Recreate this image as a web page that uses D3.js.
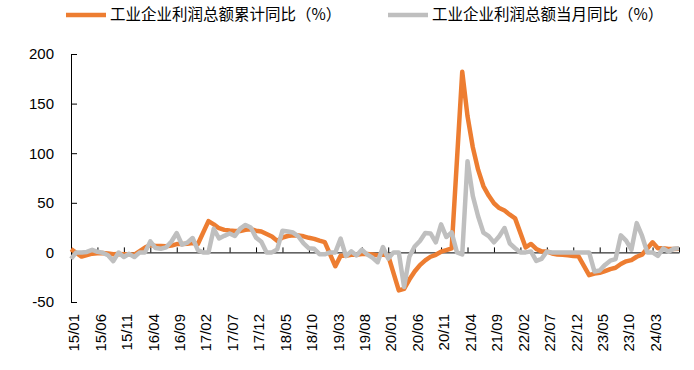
<!DOCTYPE html>
<html>
<head>
<meta charset="utf-8">
<script src="https://cdn.jsdelivr.net/npm/d3@7"></script>
<style>
body { margin: 0; background: #fff; }
#vis { width: 694px; height: 370px; }
</style>
</head>
<body>
<div id="vis"></div>
<script>
// months on the category axis, 15/01 .. 24/08
var months = [];
for (var yr = 15; yr <= 24; yr++) {
	for (var mo = 1; mo <= 12; mo++) {
		if (yr == 24 && mo > 8) break;
		months.push(yr + '/' + (mo < 10 ? '0' + mo : mo));
	}
}
var tick_labels = ['15/01', '15/06', '15/11', '16/04', '16/09', '17/02', '17/07', '17/12', '18/05', '18/10', '19/03', '19/08', '20/01', '20/06', '20/11', '21/04', '21/09', '22/02', '22/07', '22/12', '23/05', '23/10', '24/03'];
var y_ticks = [-50, 0, 50, 100, 150, 200];
var series_names = ['工业企业利润总额累计同比（%）', '工业企业利润总额当月同比（%）'];

// cumulative yoy (null = no value, line is joined over it)
var cumulative = [
	3.3, null, -4.2, -2.7, -1.3, -0.8, -0.7, -1.0, -1.9, -1.7, -1.9, -1.9,
	-2.3, null, 4.8, 7.4, 6.5, 6.4, 6.2, 6.9, 8.4, 8.4, 8.6, 9.4,
	8.5, null, 31.5, 28.3, 24.4, 22.7, 22.0, 21.6, 21.6, 22.8, 23.3, 21.9,
	21.0, null, 16.1, 11.6, 15.0, 16.5, 17.2, 17.1, 16.2, 14.7, 13.6, 11.8,
	10.3, null, -14.0, -3.3, -3.4, -2.3, -2.4, -1.7, -1.7, -2.1, -2.9, -2.1,
	-3.3, null, -38.3, -36.7, -27.4, -19.3, -12.8, -8.1, -4.4, -2.4, 0.7, 2.4,
	4.1, null, 182, 137.3, 106.0, 83.4, 66.9, 57.3, 49.5, 44.7, 42.2, 38.0,
	34.3, null, 5.0, 8.5, 3.5, 1.0, 1.0, -1.1, -2.1, -2.3, -3.0, -3.6,
	-4.0, null, -22.9, -21.4, -20.6, -18.8, -16.8, -15.5, -11.7, -9.0, -7.8, -4.4,
	-2.3, null, 10.2, 4.3, 4.3, 3.4, 3.5, 3.6
];
// single month yoy
var monthly = [
	-6.5, 0, 0, 0.5, 2.6, 0.6, -0.3, -2.9, -8.8, -0.1, -4.6, -1.4,
	-4.7, 0, 0, 11.1, 4.4, 3.7, 5.1, 11.0, 19.5, 7.7, 9.8, 14.5,
	2.3, 0, 0, 23.8, 14.0, 16.7, 19.1, 16.5, 24.0, 27.7, 25.1, 14.9,
	10.8, 0, 0, 3.1, 21.9, 21.1, 20.0, 16.2, 9.2, 4.1, 3.6, -1.8,
	-1.9, 0, 0, 13.9, -3.7, 1.1, -3.1, 2.6, -2.0, -5.3, -9.9, 5.4,
	-6.3, 0, 0, -34.9, -4.3, 6.0, 11.5, 19.6, 19.1, 10.1, 28.2, 15.5,
	20.1, 0, -2, 92, 57.0, 36.4, 20.0, 16.4, 10.1, 16.3, 24.6, 9.0,
	4.2, 0, 0, 1, -8.5, -6.5, 0.8, 0, 0, 0, 0, 0,
	0, 0, 0, -19.2, -18.2, -12.6, -8.3, -6.7, 17.2, 11.9, 2.7, 29.5,
	16.8, 0, 0, -3.5, 4.0, 0.7, 3.6, 4.1
];
var colours = ['#ED7D31', '#BFBFBF'];

var width = 694;
var height = 370;
var margin = {
	top: 54,
	bottom: 68,
	left: 71,
	right: 15
};
var svg = d3.select('#vis').append('svg').attr('width', width).attr('height', height);
var g = svg.append('g').attr('transform', 'translate(' + margin.left + ',' + margin.top + ')');
width = width - margin.left - margin.right;
height = height - margin.top - margin.bottom;

var x_scale = d3.scalePoint().domain(months).range([0, width]);
var y_scale = d3.scaleLinear().domain([-50, 200]).range([height, 0]);
var tick_font = '"Liberation Sans", Arial, sans-serif';

// y axis, ticks pointing inward
var y_axis = d3.axisLeft(y_scale).tickValues(y_ticks).tickSizeInner(-6).tickSizeOuter(0).tickPadding(17).tickFormat(function(d) {
	return String(d);
});
var ya = g.append('g').attr('class', 'y axis').call(y_axis);
ya.selectAll('text').attr('font-family', tick_font).attr('font-size', 15).attr('fill', '#000');
ya.selectAll('line, path').attr('stroke', '#000');

// x axis line at zero with tick marks every 5 months
var every5 = months.filter(function(d, i) {
	return i % 5 == 0;
});
var x_axis = d3.axisBottom(x_scale).tickValues(every5).tickSizeInner(-5).tickSizeOuter(0).tickFormat('');
var xa = g.append('g').attr('class', 'x axis').attr('transform', 'translate(0,' + y_scale(0) + ')').call(x_axis);
xa.selectAll('line, path').attr('stroke', '#000');

// labels at the bottom of the plot
var x_labels = d3.axisBottom(x_scale).tickValues(tick_labels).tickSize(0);
var xl = g.append('g').attr('class', 'x labels').attr('transform', 'translate(0,' + height + ')').call(x_labels);
xl.select('.domain').remove();
xl.selectAll('text').attr('font-family', tick_font).attr('font-size', 15).attr('fill', '#000')
	.attr('text-anchor', 'end').attr('transform', 'rotate(-90)').attr('x', -12).attr('y', 2.5).attr('dy', '0.35em');

var line = d3.line().x(function(d) {
	return x_scale(d.month);
}).y(function(d) {
	return y_scale(d.value);
});
[cumulative, monthly].forEach(function(values, k) {
	var pts = months.map(function(m, i) {
		return {
			month: m,
			value: values[i]
		};
	}).filter(function(d) {
		return d.value !== null;
	});
	g.append('path').datum(pts).attr('fill', 'none').attr('stroke', colours[k]).attr('stroke-width', 4.5)
		.attr('stroke-linejoin', 'round').attr('d', line);
});

// legend
var legend_x = [66, 388];
series_names.forEach(function(name, k) {
	var lg = svg.append('g').attr('transform', 'translate(' + legend_x[k] + ',15)');
	lg.append('line').attr('x1', 0).attr('x2', 40).attr('y1', 0).attr('y2', 0).attr('stroke', colours[k]).attr('stroke-width', 4.5);
	lg.append('text').attr('x', 44).attr('y', 0).attr('dy', '0.35em').attr('font-family', '"Noto Sans CJK SC", sans-serif')
		.attr('font-size', 15.5).attr('fill', '#000').text(name);
});
</script>
</body>
</html>
